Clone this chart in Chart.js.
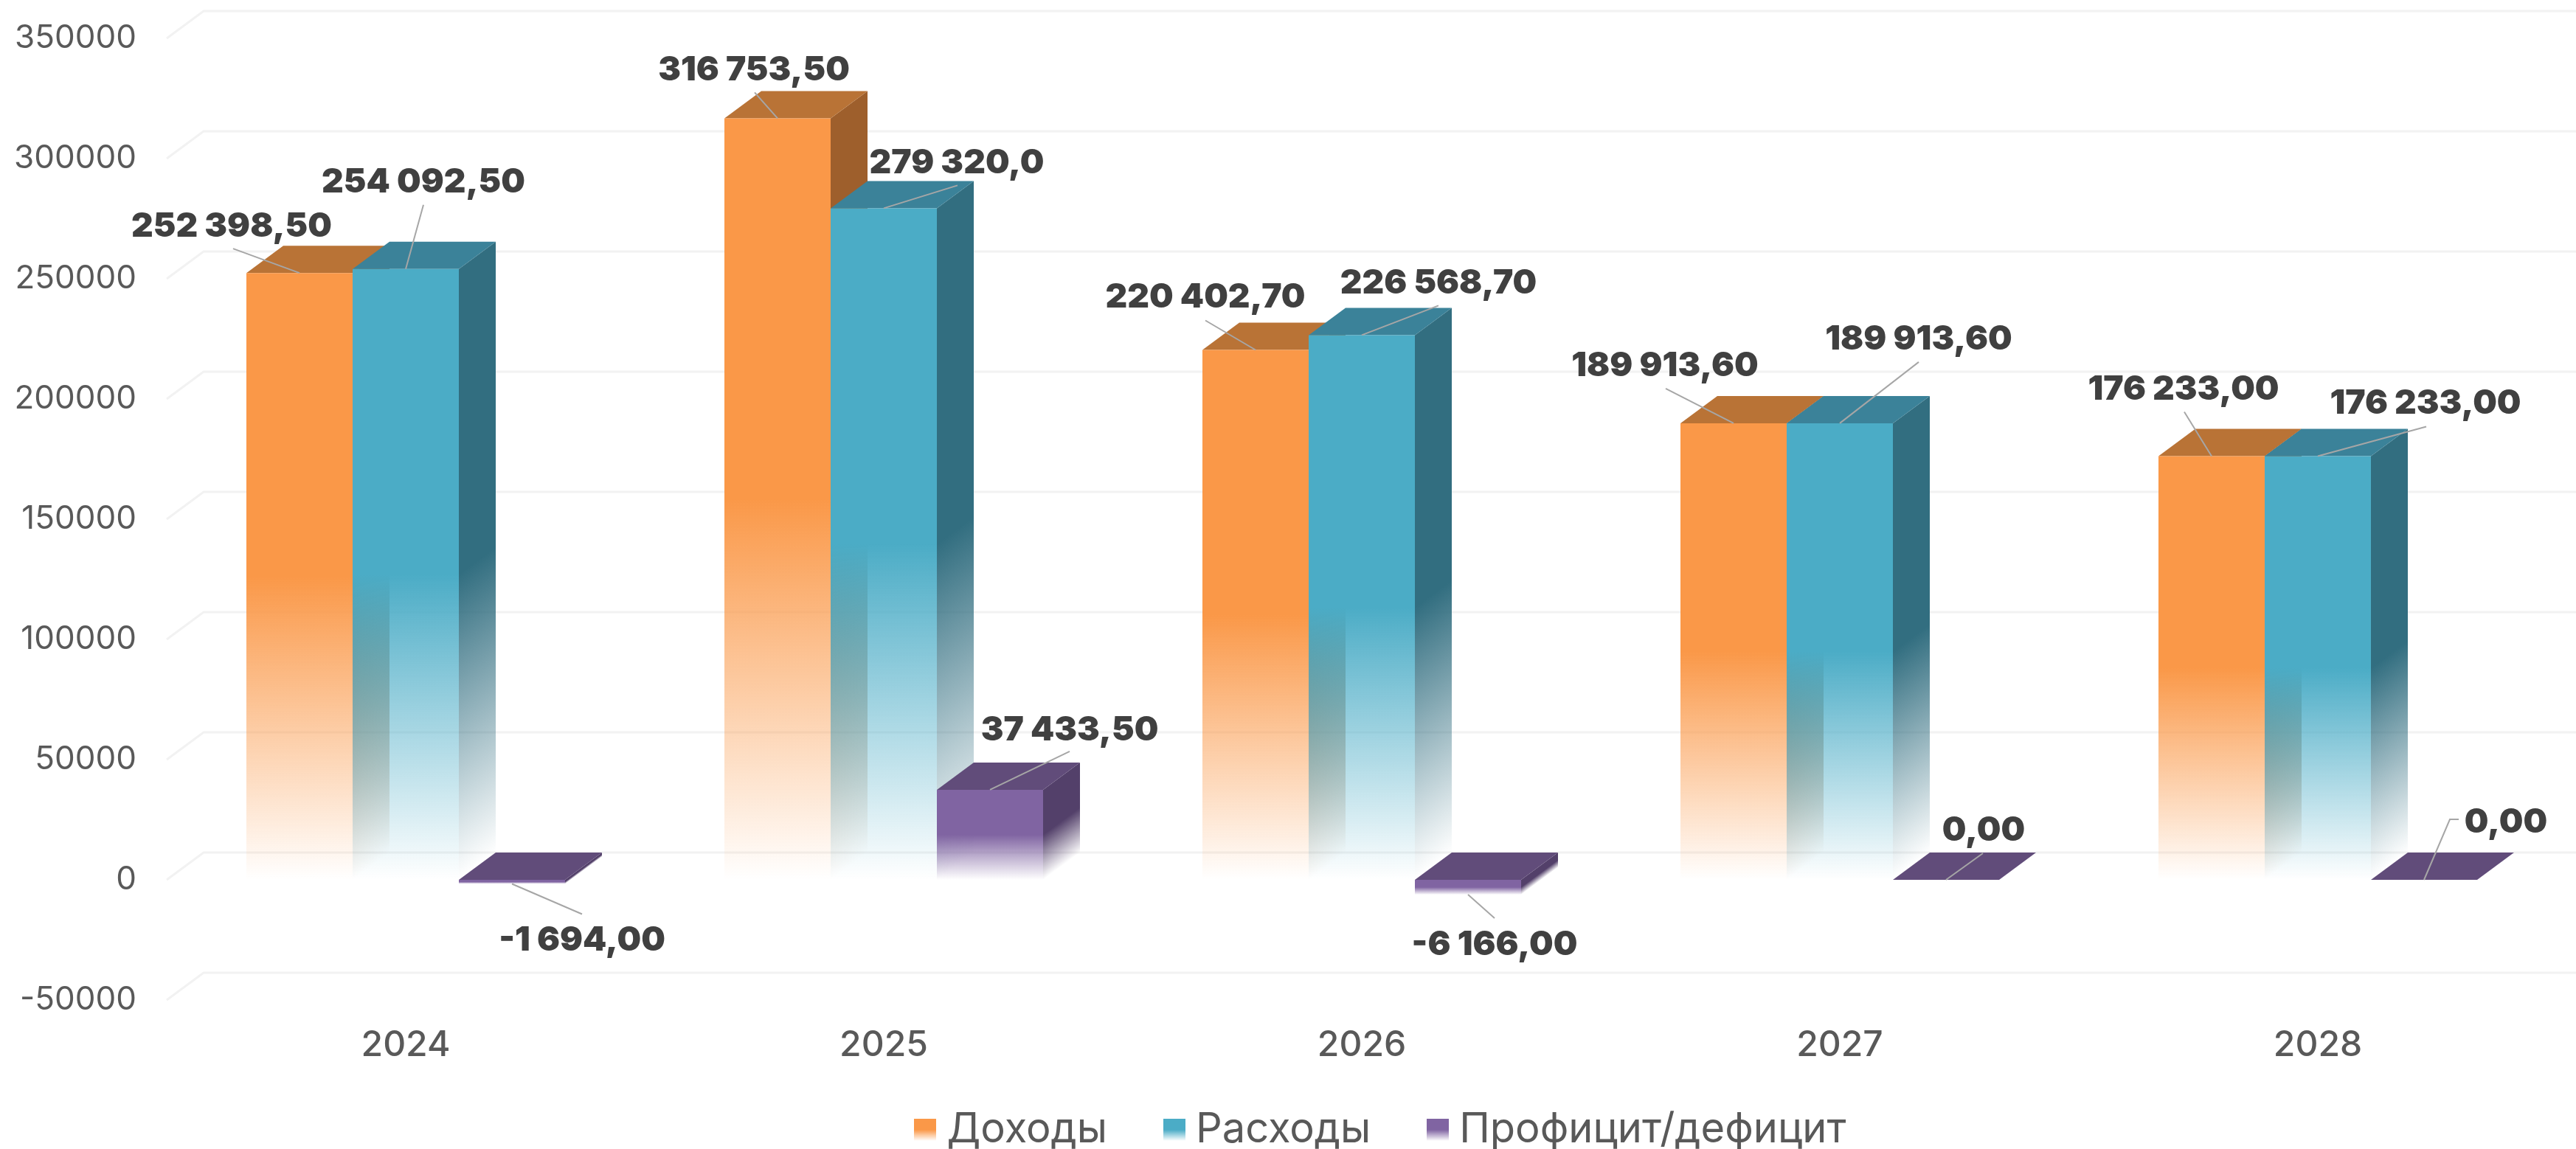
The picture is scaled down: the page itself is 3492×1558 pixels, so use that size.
<!DOCTYPE html>
<html lang="ru">
<head>
<meta charset="utf-8">
<title>Доходы и расходы</title>
<script src="https://cdn.jsdelivr.net/npm/chart.js@4/dist/chart.umd.min.js"></script>
<style>
  html, body { margin: 0; padding: 0; background: #fff; }
  canvas { display: block; }
</style>
</head>
<body>
<canvas id="budgetChart" width="3492" height="1558"></canvas>
<script>
const years = ['2024', '2025', '2026', '2027', '2028'];
const seriesNames = ['Доходы', 'Расходы', 'Профицит/дефицит'];

const income = [252398.5, 316753.5, 220402.7, 189913.6, 176233];
const expenses = [254092.5, 279320, 226568.7, 189913.6, 176233];
const balance = [-1694, 37433.5, -6166, 0, 0];

const incomeLabels = ['252 398,50', '316 753,50', '220 402,70', '189 913,60', '176 233,00'];
const expensesLabels = ['254 092,50', '279 320,0', '226 568,70', '189 913,60', '176 233,00'];
const balanceLabels = ['-1 694,00', '37 433,50', '-6 166,00', '0,00', '0,00'];

// callout layout, relative to the bar end: label centre, then leader points going outward
const incomeCallouts = [[-92, -63, -90, -33], [-32, -65, -31, -35], [-68, -71, -68, -40], [-93, -78, -92, -47], [-38, -90, -37, -60]];
const expensesCallouts = [[24, -117, 24, -87], [99, -61, 100, -31], [104, -70, 104, -40], [107, -114, 107, -83], [146, -71, 147, -40]];
const balanceCallouts = [[95, 77, 95, 41], [108, -81, 108, -52], [36, 68, 36, 32], [51, -67, 50, -36], [111, -78, 35, -82, 47, -82]];

const labelSets = [incomeLabels, expensesLabels, balanceLabels];
const calloutSets = [incomeCallouts, expensesCallouts, balanceCallouts];

const frontColors = [[250, 152, 72], [75, 172, 198], [128, 100, 162]];
const topColors = ['#b97336', '#3b8299', '#614c7a'];
const sideColors = [[158, 95, 44], [50, 110, 128], [83, 64, 106]];

const depthX = 50;
const depthY = 37;
const textFont = 'Inter, "Noto Sans", sans-serif';

const rgba = (c, a) => `rgba(${c[0]},${c[1]},${c[2]},${a})`;

const fadeGradient = (ctx, top, bottom, color) => {
    const g = ctx.createLinearGradient(0, top, 0, bottom);
    g.addColorStop(0, rgba(color, 1));
    g.addColorStop(0.5, rgba(color, 1));
    g.addColorStop(1, rgba(color, 0));
    return g;
};

const makeSwatch = (color) => {
    const c = document.createElement('canvas');
    c.width = 30;
    c.height = 30;
    const cctx = c.getContext('2d');
    cctx.fillStyle = fadeGradient(cctx, 0, 30, color);
    cctx.fillRect(0, 0, 30, 30);
    return c;
};
const swatches = frontColors.map(makeSwatch);

const frontFill = (seriesIndex) => (context) => {
    const chart = context.chart;
    if (context.type !== 'data') return rgba(frontColors[seriesIndex], 1);
    const y = chart.scales.y;
    const a = y.getPixelForValue(context.raw);
    const b = y.getPixelForValue(0);
    if (a === b) return rgba(frontColors[seriesIndex], 1);
    return fadeGradient(chart.ctx, Math.min(a, b), Math.max(a, b), frontColors[seriesIndex]);
};

const drawSideAndTop = (ctx, el, seriesIndex, zero) => {
    const left = el.x - el.width / 2;
    const right = el.x + el.width / 2;
    const top = Math.min(el.y, zero);
    const bottom = Math.max(el.y, zero);

    if (bottom > top) {
        ctx.save();
        ctx.transform(1, -depthY / depthX, 0, 1, right, 0);
        ctx.fillStyle = fadeGradient(ctx, top, bottom, sideColors[seriesIndex]);
        ctx.fillRect(0, top, depthX, bottom - top);
        ctx.restore();
    }

    ctx.fillStyle = topColors[seriesIndex];
    ctx.beginPath();
    ctx.moveTo(left, top);
    ctx.lineTo(right, top);
    ctx.lineTo(right + depthX, top - depthY);
    ctx.lineTo(left + depthX, top - depthY);
    ctx.closePath();
    ctx.fill();
};

const bars3d = {
    id: 'bars3d',
    afterLayout(chart) {
        // the legend sits lower and right of where the library centres it
        chart.legend.left += 145;
        chart.legend.right += 145;
        chart.legend.top += 12;
        chart.legend.bottom += 12;
        // year labels are clipped to the axis box, which is squeezed by the legend
        chart.scales.x.bottom += 70;
    },
    beforeDatasetsDraw(chart) {
        const { ctx, chartArea, scales } = chart;
        ctx.save();
        ctx.strokeStyle = '#f2f2f2';
        ctx.lineWidth = 3;
        scales.y.ticks.forEach((tick) => {
            const y = scales.y.getPixelForValue(tick.value);
            ctx.beginPath();
            ctx.moveTo(chartArea.left, y);
            ctx.lineTo(chartArea.left + depthX, y - depthY);
            ctx.lineTo(chartArea.right + depthX, y - depthY);
            ctx.stroke();
        });
        ctx.restore();
    },
    beforeDatasetDraw() {
        return false; // bars are painted below, in series order
    },
    afterDatasetsDraw(chart) {
        const { ctx, scales } = chart;
        const zero = scales.y.getPixelForValue(0);

        years.forEach((year, i) => {
            seriesNames.forEach((name, s) => {
                const el = chart.getDatasetMeta(s).data[i];
                drawSideAndTop(ctx, el, s, zero);
                el.draw(ctx);
            });
        });

        ctx.save();
        ctx.strokeStyle = '#a6a6a6';
        ctx.lineWidth = 2;
        ctx.fillStyle = '#404040';
        ctx.font = `900 46px ${textFont}`;
        ctx.textAlign = 'center';
        ctx.textBaseline = 'middle';
        seriesNames.forEach((name, s) => {
            chart.getDatasetMeta(s).data.forEach((el, i) => {
                const c = calloutSets[s][i];
                ctx.beginPath();
                ctx.moveTo(el.x, el.y);
                for (let k = 2; k < c.length; k += 2) ctx.lineTo(el.x + c[k], el.y + c[k + 1]);
                ctx.stroke();
                ctx.fillText(labelSets[s][i], el.x + c[0], el.y + c[1]);
            });
        });
        ctx.restore();
    }
};

const makeDataset = (label, data, s) => ({
    label,
    data,
    backgroundColor: frontFill(s),
    borderWidth: 0,
    categoryPercentage: 2 / 3,
    barPercentage: 1
});

new Chart(document.getElementById('budgetChart'), {
    type: 'bar',
    data: {
        labels: years,
        datasets: [
            makeDataset(seriesNames[0], income, 0),
            makeDataset(seriesNames[1], expenses, 1),
            makeDataset(seriesNames[2], balance, 2)
        ]
    },
    plugins: [bars3d],
    options: {
        responsive: false,
        animation: false,
        layout: { autoPadding: false, padding: { top: 52, right: 26, bottom: 0, left: 0 } },
        plugins: {
            tooltip: { enabled: false },
            title: { display: false },
            legend: {
                position: 'bottom',
                labels: {
                    usePointStyle: true,
                    pointStyleWidth: 2,
                    padding: 90,
                    color: '#595959',
                    font: { family: textFont, size: 56 },
                    generateLabels: () => seriesNames.map((text, s) => ({
                        text,
                        datasetIndex: s,
                        pointStyle: swatches[s],
                        fillStyle: rgba(frontColors[s], 1),
                        fontColor: '#595959',
                        lineWidth: 0,
                        hidden: false
                    }))
                }
            }
        },
        scales: {
            x: {
                grid: { display: false, drawTicks: false },
                border: { display: false },
                afterFit: (scale) => { scale.height = 46; },
                ticks: {
                    color: '#595959',
                    padding: 33,
                    maxRotation: 0,
                    font: { family: textFont, size: 48, weight: 500 }
                }
            },
            y: {
                min: -50000,
                max: 350000,
                grid: { display: false, drawTicks: false },
                border: { display: false },
                afterFit: (scale) => {
                    scale.width = 226;
                    // tick padding would otherwise push the plot area down
                    scale.paddingTop = 0;
                    scale.paddingBottom = 0;
                },
                ticks: {
                    stepSize: 50000,
                    color: '#595959',
                    padding: 41,
                    font: { family: textFont, size: 44 },
                    callback: (value) => String(value)
                }
            }
        }
    }
});
</script>
</body>
</html>
